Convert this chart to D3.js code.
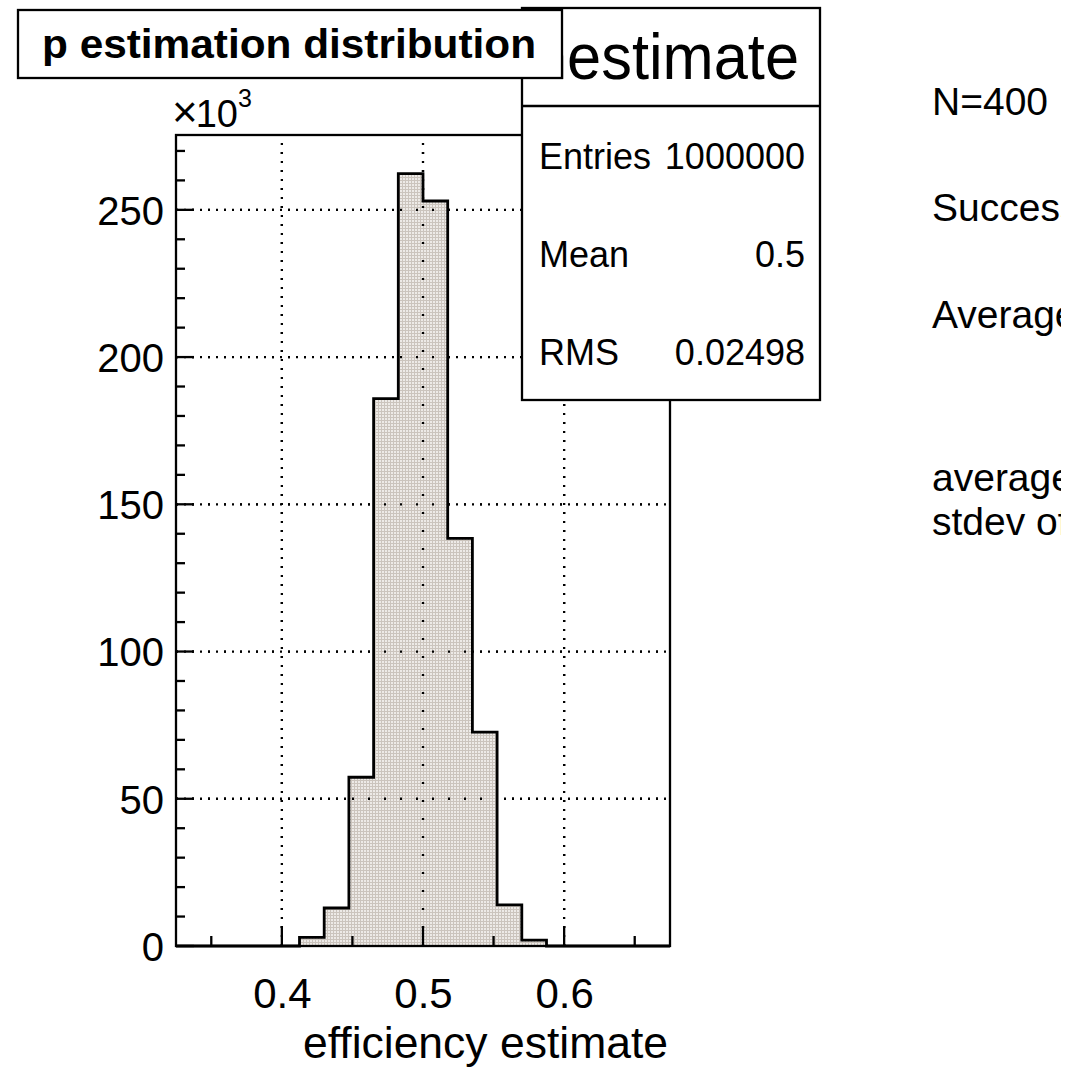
<!DOCTYPE html>
<html>
<head>
<meta charset="utf-8">
<script src="https://cdn.jsdelivr.net/npm/d3@7"></script>
<style>
  html, body { margin: 0; padding: 0; background: #fff; }
  svg { display: block; font-family: "Liberation Sans", Arial, Helvetica, sans-serif; }
</style>
</head>
<body>
<svg id="chart" width="1079" height="1071"></svg>
<script>
// Histogram of the efficiency estimate: 20 bins over [0.325, 0.675]
const binLow = [0.325, 0.3425, 0.36, 0.3775, 0.395, 0.4125, 0.43, 0.4475, 0.465, 0.4825,
                0.5, 0.5175, 0.535, 0.5525, 0.57, 0.5875, 0.605, 0.6225, 0.64, 0.6575];
const binWidth = 0.0175;
const counts = [0, 0, 0, 0, 0, 2900, 12900, 57300, 185900, 262300,
                253000, 138400, 72600, 14000, 2000, 0, 0, 0, 0, 0];

const xMajorTicks = [0.4, 0.5, 0.6];
const xMinorTicks = [0.35, 0.45, 0.55, 0.65];
const yMajorTicks = [0, 50, 100, 150, 200, 250];          // in units of 10^3
const yMinorTicks = [10, 20, 30, 40, 60, 70, 80, 90, 110, 120, 130, 140,
                     160, 170, 180, 190, 210, 220, 230, 240, 260, 270];

const titleText = "p estimation distribution";
const statsName = "hestimate";
const statsLabels = ["Entries", "Mean", "RMS"];
const statsValues = ["1000000", "0.5", "0.02498"];
const sideLines = ["N=400", "Success", "Average", "average", "stdev of"];
const xTitle = "efficiency estimate";

const svg = d3.select("#chart");

// plot frame
const fx0 = 176, fx1 = 670, fy0 = 135, fy1 = 946;
const yMax = d3.max(counts) * 1.05 / 1000;

const x = d3.scaleLinear().domain([0.325, 0.675]).range([fx0, fx1]);
const y = d3.scaleLinear().domain([0, yMax]).range([fy1, fy0]);

const defs = svg.append("defs");
// fill pattern for the histogram body
const pat = defs.append("pattern")
  .attr("id", "hfill").attr("patternUnits", "userSpaceOnUse")
  .attr("width", 3).attr("height", 3);
pat.append("rect").attr("width", 3).attr("height", 3).attr("fill", "#cbc4bd");
pat.append("rect").attr("x", 1).attr("y", 1).attr("width", 2).attr("height", 2).attr("fill", "#edeae7");
// canvas edge for the side notes
defs.append("clipPath").attr("id", "canvasClip")
  .append("rect").attr("x", 0).attr("y", 0).attr("width", 1061).attr("height", 1071);

const plot = svg.append("g");

// grid lines at the major ticks
function drawGrid(g, hDash, vDash) {
  g.selectAll(".gv").data(xMajorTicks).join("line")
    .attr("x1", d => x(d)).attr("x2", d => x(d))
    .attr("y1", fy1).attr("y2", fy0)
    .attr("stroke", "#000").attr("stroke-width", 2.3)
    .attr("stroke-dasharray", vDash);
  g.selectAll(".gh").data(yMajorTicks.filter(d => d > 0)).join("line")
    .attr("x1", fx0).attr("x2", fx1)
    .attr("y1", d => y(d)).attr("y2", d => y(d))
    .attr("stroke", "#000").attr("stroke-width", 2.3)
    .attr("stroke-dasharray", hDash);
}
drawGrid(plot.append("g"), "2,6", "2,7");

// histogram outline as a step path
const pts = [[x(binLow[0]), y(0)]];
counts.forEach((c, i) => {
  pts.push([x(binLow[i]), y(c / 1000)]);
  pts.push([x(binLow[i] + binWidth), y(c / 1000)]);
});
pts.push([x(binLow[binLow.length - 1] + binWidth), y(0)]);
const line = d3.line();
plot.append("path").attr("d", line(pts) + "Z")
  .attr("fill", "url(#hfill)").attr("stroke", "none");

// sparser grid showing through the fill
drawGrid(plot.append("g"), "2,14", "2,16");

plot.append("path").attr("d", line(pts))
  .attr("fill", "none").attr("stroke", "#000").attr("stroke-width", 2.8)
  .attr("stroke-linejoin", "miter");

// axes
const xAxis = d3.axisBottom(x).tickValues(xMajorTicks).tickSize(0).tickFormat(d3.format(".1f"));
const yAxis = d3.axisLeft(y).tickValues(yMajorTicks).tickSize(0).tickFormat(d3.format("d"));

const gx = svg.append("g").attr("transform", `translate(0,${fy1})`).call(xAxis);
gx.select(".domain").remove();
gx.selectAll("text").attr("font-size", 42).attr("fill", "#000").attr("dy", 0).attr("y", 62)
  .attr("font-family", "Liberation Sans, Arial, sans-serif");

const gy = svg.append("g").attr("transform", `translate(${fx0},0)`).call(yAxis);
gy.select(".domain").remove();
gy.selectAll("text").attr("font-size", 40).attr("fill", "#000").attr("x", -12).attr("dy", "0.36em")
  .attr("font-family", "Liberation Sans, Arial, sans-serif");

// tick marks drawn inward from the frame
const ticks = svg.append("g").attr("stroke", "#000").attr("stroke-width", 2.3);
ticks.selectAll(".xM").data(xMajorTicks).join("line")
  .attr("x1", d => x(d)).attr("x2", d => x(d)).attr("y1", fy1).attr("y2", fy1 - 20);
ticks.selectAll(".xm").data(xMinorTicks).join("line")
  .attr("x1", d => x(d)).attr("x2", d => x(d)).attr("y1", fy1).attr("y2", fy1 - 10);
ticks.selectAll(".yM").data(yMajorTicks).join("line")
  .attr("x1", fx0).attr("x2", fx0 + 18).attr("y1", d => y(d)).attr("y2", d => y(d));
ticks.selectAll(".ym").data(yMinorTicks).join("line")
  .attr("x1", fx0).attr("x2", fx0 + 9).attr("y1", d => y(d)).attr("y2", d => y(d));

// frame
svg.append("rect").attr("x", fx0).attr("y", fy0).attr("width", fx1 - fx0).attr("height", fy1 - fy0)
  .attr("fill", "none").attr("stroke", "#000").attr("stroke-width", 2.3);

// axis exponent label
const expo = svg.append("text").attr("x", 172).attr("y", 127).attr("font-size", 38);
expo.append("tspan").attr("font-size", 44).text("\u00d7");
expo.append("tspan").attr("dx", -2).text("10");
expo.append("tspan").attr("dy", -20).attr("font-size", 25).text("3");

// x axis title
svg.append("text").attr("x", 668).attr("y", 1058).attr("text-anchor", "end")
  .attr("font-size", 45).attr("textLength", 365).attr("lengthAdjust", "spacingAndGlyphs")
  .text(xTitle);

// statistics box
const sb = svg.append("g");
sb.append("rect").attr("x", 522).attr("y", 8).attr("width", 298).attr("height", 392)
  .attr("fill", "#fff").attr("stroke", "#000").attr("stroke-width", 2.3);
sb.append("line").attr("x1", 522).attr("x2", 820).attr("y1", 106).attr("y2", 106)
  .attr("stroke", "#000").attr("stroke-width", 2.3);
sb.append("text").attr("x", 799).attr("y", 79).attr("text-anchor", "end")
  .attr("font-size", 64).attr("textLength", 266).attr("lengthAdjust", "spacingAndGlyphs")
  .text(statsName);
const rowY = [169, 267, 365];
sb.selectAll(".sl").data(statsLabels).join("text")
  .attr("x", 539).attr("y", (d, i) => rowY[i]).attr("font-size", 36).text(d => d);
sb.selectAll(".sv").data(statsValues).join("text")
  .attr("x", 805).attr("y", (d, i) => rowY[i]).attr("text-anchor", "end")
  .attr("font-size", 36).text(d => d);

// title box
const tb = svg.append("g");
tb.append("rect").attr("x", 18).attr("y", 10).attr("width", 544).attr("height", 68)
  .attr("fill", "#fff").attr("stroke", "#000").attr("stroke-width", 2.3);
tb.append("text").attr("x", 289).attr("y", 58).attr("text-anchor", "middle")
  .attr("font-size", 41).attr("font-weight", "bold")
  .attr("textLength", 494).attr("lengthAdjust", "spacingAndGlyphs")
  .text(titleText);

// side notes, cut at the canvas edge
const sideY = [115, 221, 328, 491, 535];
svg.append("g").attr("clip-path", "url(#canvasClip)")
  .selectAll(".side").data(sideLines).join("text")
  .attr("x", 932).attr("y", (d, i) => sideY[i]).attr("font-size", 39).text(d => d);
</script>
</body>
</html>
